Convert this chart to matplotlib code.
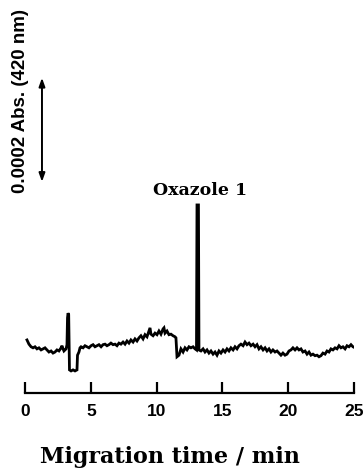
import matplotlib
matplotlib.use("Agg")
import matplotlib.pyplot as plt

# Migration time (min)
time_min = [0.15, 0.30, 0.46, 0.61, 0.76, 0.91, 1.06, 1.22, 1.37, 1.52, 1.67, 1.82, 1.98, 2.13, 2.28,
            2.43, 2.58, 2.74, 2.81, 2.89, 2.96, 3.04, 3.12, 3.19, 3.23, 3.27, 3.32, 3.36, 3.38, 3.50,
            3.65, 3.80, 3.95, 3.99, 4.10, 4.18, 4.26, 4.41, 4.56, 4.71, 4.86, 5.02, 5.17, 5.32, 5.47,
            5.62, 5.78, 5.93, 6.08, 6.23, 6.38, 6.53, 6.69, 6.84, 6.99, 7.14, 7.29, 7.45, 7.60, 7.75,
            7.90, 8.05, 8.21, 8.36, 8.51, 8.66, 8.81, 8.97, 9.12, 9.27, 9.42, 9.50, 9.57, 9.73, 9.88,
            10.03, 10.18, 10.33, 10.49, 10.56, 10.64, 10.79, 10.94, 11.09, 11.25, 11.40, 11.47, 11.55,
            11.70, 11.85, 12.01, 12.16, 12.31, 12.46, 12.61, 12.77, 12.92, 13.03, 13.07, 13.18, 13.22,
            13.37, 13.53, 13.68, 13.83, 13.98, 14.13, 14.29, 14.44, 14.59, 14.74, 14.89, 15.05, 15.20,
            15.35, 15.50, 15.65, 15.81, 15.96, 16.11, 16.26, 16.41, 16.57, 16.72, 16.87, 17.02, 17.17,
            17.33, 17.48, 17.63, 17.78, 17.93, 18.09, 18.24, 18.39, 18.54, 18.69, 18.84, 19.00, 19.15,
            19.30, 19.45, 19.60, 19.76, 19.91, 20.06, 20.21, 20.36, 20.52, 20.67, 20.82, 20.97, 21.12,
            21.28, 21.43, 21.58, 21.73, 21.88, 22.04, 22.19, 22.34, 22.49, 22.64, 22.80, 22.95, 23.10,
            23.25, 23.40, 23.56, 23.71, 23.86, 24.01, 24.16, 24.32, 24.47, 24.62, 24.77, 24.92, 25.08]

# Absorbance at 420 nm (units of 1e-4 AU, relative to baseline)
absorbance_1e4 = [0.19, 0.11, 0.06, 0.04, 0.06, 0.02, 0.04, 0.00, 0.02, 0.04, 0.00, -0.04, -0.02, -0.06, -0.04,
                  0.00, -0.02, 0.04, 0.08, 0.02, -0.02, 0.00, 0.02, 0.10, 0.61, 0.70, 0.67, 0.00, -0.38, -0.40,
                  -0.38, -0.40, -0.38, -0.10, -0.04, 0.04, 0.06, 0.04, 0.08, 0.06, 0.04, 0.08, 0.10, 0.06, 0.08,
                  0.10, 0.06, 0.10, 0.11, 0.08, 0.10, 0.13, 0.10, 0.11, 0.08, 0.13, 0.11, 0.15, 0.11, 0.17,
                  0.13, 0.19, 0.15, 0.21, 0.17, 0.23, 0.27, 0.21, 0.29, 0.25, 0.36, 0.42, 0.30, 0.27, 0.32,
                  0.29, 0.36, 0.30, 0.40, 0.42, 0.32, 0.36, 0.29, 0.30, 0.27, 0.25, 0.23, -0.13,
                  -0.10, 0.02, -0.04, 0.04, 0.00, 0.06, 0.04, 0.06, 0.02, 0.00, 2.76, 2.76, 0.00,
                  -0.02, 0.02, -0.04, 0.00, -0.06, -0.02, -0.08, -0.04, -0.10, -0.02, -0.06, 0.00, -0.04,
                  0.02, -0.02, 0.04, 0.00, 0.06, 0.02, 0.08, 0.11, 0.08, 0.15, 0.10, 0.13, 0.08,
                  0.11, 0.06, 0.10, 0.02, 0.06, 0.00, 0.04, -0.02, 0.02, -0.04, 0.00, -0.04, -0.02,
                  -0.06, -0.10, -0.06, -0.10, -0.08, -0.02, 0.00, 0.04, 0.00, 0.04, 0.00, 0.02, -0.04,
                  -0.02, -0.08, -0.04, -0.10, -0.08, -0.11, -0.10, -0.13, -0.11, -0.06, -0.08, -0.02, -0.04,
                  0.02, 0.00, 0.04, 0.02, 0.08, 0.04, 0.06, 0.02, 0.08, 0.06, 0.10, 0.06, 0.04]

x_ticks = [0, 5, 10, 15, 20, 25]
x_tick_labels = ["0", "5", "10", "15", "20", "25"]
peak_label = "Oxazole 1"
peak_time = 13.3
scale_bar_time = 1.29
scale_bar_low, scale_bar_high = 3.20, 5.18   # 0.0002 AU span (2 x 1e-4)

fig = plt.figure(figsize=(3.64, 4.72), dpi=100)
ax = fig.add_axes([25 / 364, 79 / 472, 329 / 364, 353 / 472])

ax.plot(time_min, absorbance_1e4, color="black", lw=2.0, solid_joinstyle="miter")
ax.set_xlim(0, 25)
ax.set_ylim(-0.82, 5.90)

for s in ["left", "right", "top"]:
    ax.spines[s].set_visible(False)
ax.spines["bottom"].set_linewidth(1.6)
ax.set_yticks([])
ax.set_xticks(x_ticks)
ax.set_xticklabels(x_tick_labels, fontfamily="Liberation Sans", fontweight="bold", fontsize=12.5)
ax.tick_params(axis="x", direction="in", length=8, width=1.6, pad=8)

ax.annotate("", xy=(scale_bar_time, scale_bar_high), xytext=(scale_bar_time, scale_bar_low),
            arrowprops=dict(arrowstyle="<|-|>,head_length=0.5,head_width=0.18", color="black", lw=1.4,
                            shrinkA=0, shrinkB=0))

ax.text(peak_time, 2.95, peak_label, ha="center", va="baseline",
        fontfamily="DejaVu Serif", fontweight="bold", fontsize=12.5)

fig.text(21 / 364, 1 - 101 / 472, "0.0002 Abs. (420 nm)", rotation=90, ha="center", va="center",
         fontfamily="Liberation Sans", fontweight="bold", fontsize=13.5)

fig.text(170 / 364, 1 - 457 / 472, "Migration time / min", ha="center", va="center",
         fontfamily="DejaVu Serif", fontweight="bold", fontsize=16)

fig.savefig("out.png", dpi=100)
